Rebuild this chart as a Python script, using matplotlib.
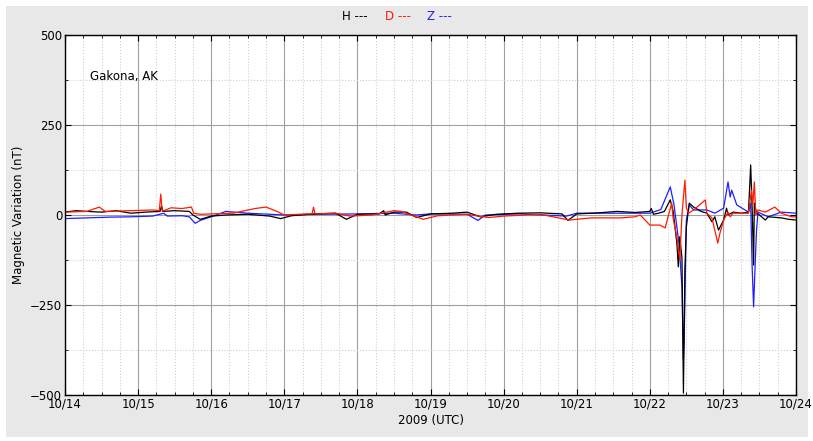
import matplotlib
matplotlib.use("Agg")
import matplotlib.pyplot as plt
from matplotlib.ticker import MultipleLocator
from matplotlib.patches import Rectangle

# data: days since 10/14 00:00 UTC, values in nT
h_t = [0, 0.15, 0.3, 0.5, 0.7, 0.9, 1.1, 1.3, 1.32, 1.34, 1.5, 1.7, 1.75, 1.85, 2.0, 2.2,
       2.5, 2.8, 2.95, 3.1, 3.4, 3.7, 3.85, 4.0, 4.3, 4.36, 4.38, 4.5, 4.67, 4.81, 5.0, 5.3,
       5.5, 5.68, 5.9, 6.2, 6.5, 6.8, 6.88, 7.0, 7.3, 7.55, 7.8, 8.0, 8.02, 8.05, 8.12, 8.2,
       8.28, 8.32, 8.37, 8.39, 8.41, 8.44, 8.46, 8.48, 8.5, 8.54, 8.6, 8.7, 8.78, 8.85, 8.89,
       8.94, 9.01, 9.05, 9.07, 9.14, 9.25, 9.35, 9.38, 9.4, 9.42, 9.43, 9.46, 9.5, 9.58, 9.62,
       9.8, 9.9, 10.0]
h_v = [8, 12, 10, 8, 12, 5, 8, 10, 25, 10, 12, 10, 0, -12, -3, 0,
       2, -3, -10, -2, 3, 5, -12, 2, 3, 12, 0, 8, 8, -7, 3, 5,
       8, -5, 2, 5, 6, 3, -15, 3, 6, 10, 7, 10, 18, 2, 5, 10,
       42, 10, -78, -144, -60, -120, -495, -150, -33, 33, 22, 10, 5, -19, -5,
       -42, -14, 19, 0, 8, 5, 8, 139, 20, -139, 33, 5, 0, -14, -5,
       -8, -12, -14]

d_t = [0, 0.3, 0.47, 0.55, 0.9, 1.2, 1.29, 1.31, 1.33, 1.45, 1.6, 1.73, 1.76, 1.85, 2.0,
       2.3, 2.6, 2.75, 2.9, 3.0, 3.3, 3.38, 3.4, 3.42, 3.7, 3.9, 4.2, 4.5, 4.6, 4.9, 5.1,
       5.5, 5.65, 5.8, 6.0, 6.5, 6.9, 7.2, 7.6, 7.8, 7.87, 8.0, 8.14, 8.21, 8.3, 8.32, 8.37,
       8.41, 8.44, 8.48, 8.5, 8.53, 8.6, 8.76, 8.78, 8.85, 8.93, 8.96, 9.01, 9.07, 9.1, 9.14,
       9.35, 9.39, 9.41, 9.43, 9.45, 9.48, 9.58, 9.71, 9.8, 9.94, 10.0]
d_v = [8, 10, 22, 10, 12, 14, 12, 58, 10, 20, 18, 22, 5, 2, 3,
       5, 18, 22, 10, 0, 3, 3, 22, 3, 5, -3, 0, 12, 10, -12, -2,
       2, -3, -7, -3, 2, -14, -8, -8, -5, 0, -28, -28, -36, 33, -10, -61,
       -125, 0, 97, 20, 5, 14, 42, 5, -8, -78, -50, -14, 8, -5, 5,
       5, 69, 30, 92, 0, 14, 8, 22, 5, -5, -5]

z_t = [0, 0.3, 0.6, 0.9, 1.2, 1.35, 1.4, 1.6, 1.7, 1.78, 1.85, 2.0, 2.2, 2.5, 2.8, 3.0,
       3.5, 4.0, 4.5, 4.8, 5.0, 5.5, 5.65, 5.75, 6.2, 6.86, 7.0, 7.4, 7.87, 8.0, 8.15, 8.28,
       8.33, 8.37, 8.4, 8.44, 8.46, 8.47, 8.5, 8.54, 8.6, 8.78, 8.89, 9.01, 9.07, 9.1, 9.12,
       9.19, 9.35, 9.38, 9.4, 9.42, 9.44, 9.46, 9.48, 9.62, 9.8, 10.0]
z_v = [-10, -8, -6, -5, -3, 5, -3, -2, -5, -23, -15, -5, 10, 5, 2, 0,
       2, 3, 5, 0, 3, 2, -15, 0, 3, -3, 5, 5, 5, 5, 15, 78,
       30, -33, -80, -200, -400, -347, -14, 28, 14, 14, 5, 19, 92, 50, 69,
       28, 8, 33, -144, -255, -144, -42, 8, -5, 8, 5]

day_labels = ["10/14", "10/15", "10/16", "10/17", "10/18", "10/19",
              "10/20", "10/21", "10/22", "10/23", "10/24"]

fig = plt.figure(figsize=(8.13, 4.41), dpi=100, facecolor="white")
fig.patches.append(Rectangle((6/813, 4/441), 802/813, 431/441, transform=fig.transFigure,
                             facecolor="#e8e8e8", edgecolor="none", zorder=-10))
ax = fig.add_axes([65/813, 46/441, 731/813, 360/441])

ax.plot(z_t, z_v, color="#1f1fff", lw=0.9)
ax.plot(h_t, h_v, color="black", lw=0.9)
ax.plot(d_t, d_v, color="#ff1a00", lw=0.9)

ax.set_xlim(0, 10)
ax.set_ylim(-500, 500)
ax.set_xticks(range(11))
ax.set_xticklabels(day_labels)
ax.xaxis.set_minor_locator(MultipleLocator(0.25))
ax.set_yticks([-500, -250, 0, 250, 500])
ax.yaxis.set_minor_locator(MultipleLocator(125))
ax.grid(True, which="major", color="#a0a0a0", linestyle="-", lw=0.8)
ax.grid(True, which="minor", color="#d0d0d0", linestyle=":", lw=0.8)
ax.set_axisbelow(True)
ax.tick_params(which="both", direction="in", top=True, right=True, labelsize=8.5, pad=2)
ax.tick_params(which="major", length=4)
ax.tick_params(which="minor", length=2)
for s in ax.spines.values():
    s.set_linewidth(1.0)

ax.set_xlabel("2009 (UTC)", fontsize=8.5, labelpad=2)
ax.set_ylabel("Magnetic Variation (nT)", fontsize=8.5)
ax.text(0.34, 386, "Gakona, AK", fontsize=8.5, va="center", ha="left")

fig.text(342/813, 1 - 17/441, "H ---", color="black", fontsize=8.5, va="center")
fig.text(385/813, 1 - 17/441, "D ---", color="#ff1a00", fontsize=8.5, va="center")
fig.text(427/813, 1 - 17/441, "Z ---", color="#1f1fff", fontsize=8.5, va="center")

fig.savefig("out.png", dpi=100, facecolor=fig.get_facecolor())
